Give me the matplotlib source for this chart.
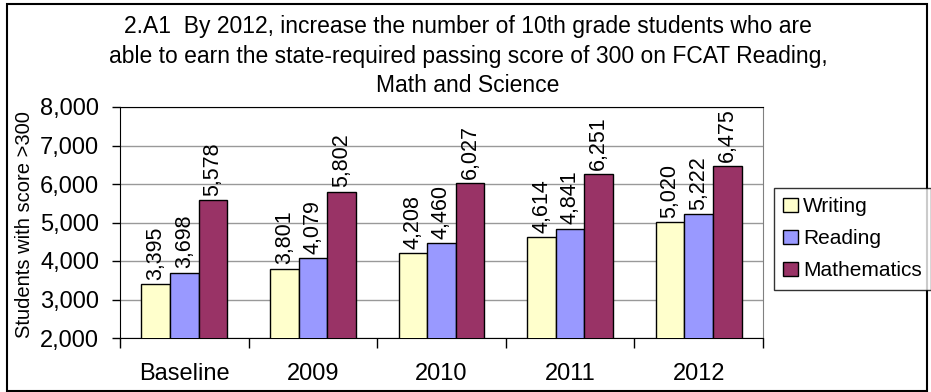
import numpy as np
import matplotlib.pyplot as plt
from matplotlib.patches import Rectangle

plt.rcParams['font.family'] = ['Liberation Sans', 'DejaVu Sans']

# data
categories = ["Baseline", "2009", "2010", "2011", "2012"]
writing = [3395, 3801, 4208, 4614, 5020]
reading = [3698, 4079, 4460, 4841, 5222]
mathematics = [5578, 5802, 6027, 6251, 6475]
series_names = ["Writing", "Reading", "Mathematics"]
yticks = [2000, 3000, 4000, 5000, 6000, 7000, 8000]

colors = ["#FFFFCC", "#9999FF", "#993366"]

fig = plt.figure(figsize=(9.31, 3.92), dpi=100)
ax = fig.add_axes([120 / 931, 1 - 338 / 392, 643 / 931, 231 / 392])

# outer chart border
fig.patches.append(Rectangle((7 / 931, 0.002), 920 / 931, 1 - 3.5 / 392 - 0.002,
                             transform=fig.transFigure, fill=False,
                             edgecolor="black", linewidth=1.5))

x = np.arange(len(categories))
w = 2 / 9
for i, (vals, name) in enumerate(zip([writing, reading, mathematics], series_names)):
    pos = x + (i - 1) * w
    ax.bar(pos, vals, width=w, color=colors[i], edgecolor="black",
           linewidth=1, label=name, zorder=3)
    for p, v in zip(pos, vals):
        ax.annotate(f"{v:,}", (p, v), xytext=(0, 3), textcoords="offset points",
                    rotation=90, ha="center", va="bottom", fontsize=15.5)

ax.set_xlim(-0.5, len(categories) - 0.5)
ax.set_ylim(2000, 8000)
ax.set_yticks(yticks)
ax.set_yticklabels([f"{t:,}" for t in yticks], fontsize=17)
ax.yaxis.grid(True, color="#999999", linewidth=1, zorder=0)
ax.set_axisbelow(True)

ax.set_xticks(np.arange(len(categories) + 1) - 0.5)
ax.set_xticklabels([])
ax.set_xticks(x, minor=True)
ax.set_xticklabels(categories, minor=True, fontsize=17)
ax.tick_params(axis="x", which="minor", length=0, pad=18)
ax.tick_params(axis="x", which="major", length=7, width=1)
ax.tick_params(axis="y", length=6, width=1, pad=9)

ax.spines["left"].set_color("black")
ax.spines["bottom"].set_color("black")
ax.spines["top"].set_color("black")
ax.spines["right"].set_color("#808080")

ax.set_ylabel("Students with score >300", fontsize=14.5)
ax.yaxis.set_label_coords(25 / 931, 1 - 225 / 392, transform=fig.transFigure)
ax.yaxis.label.set_va("center")

title_lines = ["2.A1  By 2012, increase the number of 10th grade students who are",
               "able to earn the state-required passing score of 300 on FCAT Reading,",
               "Math and Science"]
for line, yy in zip(title_lines, [27, 56, 86]):
    fig.text(468 / 931, 1 - yy / 392, line, ha="center", va="center", fontsize=16.5)

leg = fig.legend(loc="upper left", bbox_to_anchor=(774 / 931, 1 - 188 / 392),
                 fontsize=15, frameon=True, fancybox=False, edgecolor="black",
                 handlelength=0.7, handleheight=0.7, handletextpad=0.25,
                 labelspacing=0.62, borderpad=0.45, borderaxespad=0)
leg.get_frame().set_linewidth(1)

fig.savefig("out.png", dpi=100)
